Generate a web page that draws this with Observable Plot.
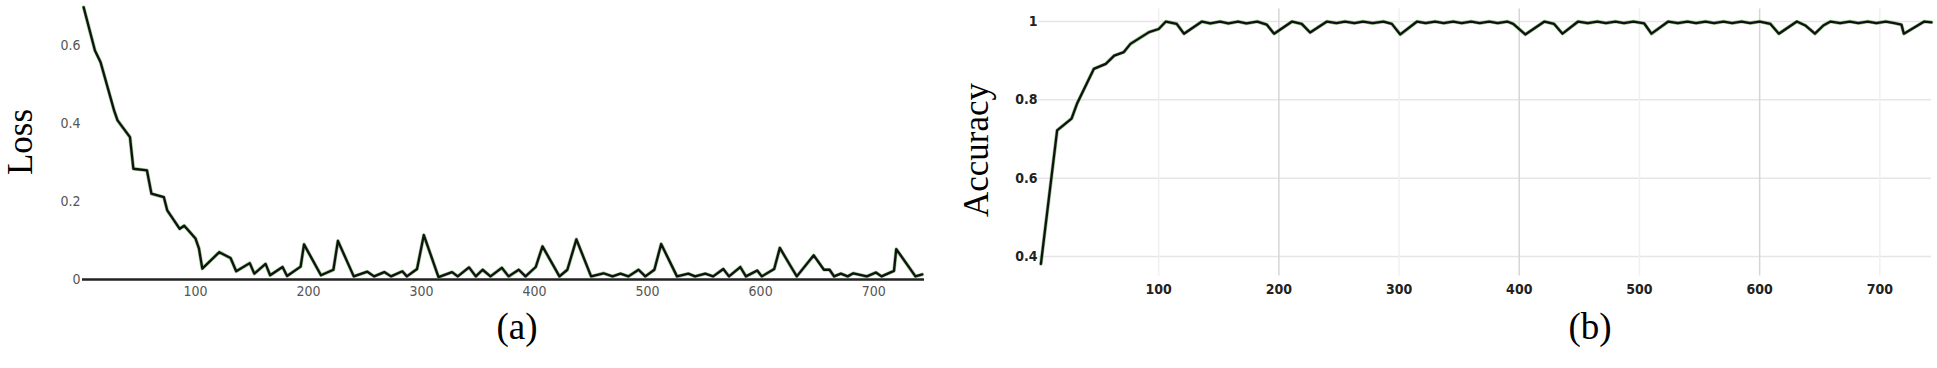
<!DOCTYPE html>
<html><head><meta charset="utf-8">
<script src="https://cdn.jsdelivr.net/npm/d3@7"></script>
<script src="https://cdn.jsdelivr.net/npm/@observablehq/plot@0.6"></script>
<style>
html,body{margin:0;padding:0;background:#fff;width:1937px;height:368px;overflow:hidden;position:relative}
.panel{position:absolute;top:0}
.panel svg text{font-stretch:condensed}
.lab{position:absolute;font-family:"Liberation Serif","Times New Roman",serif;font-size:35px;color:#000;white-space:nowrap;line-height:1}
.ylab{transform:translate(-50%,-50%) rotate(-90deg)}
.cap{transform:translate(-50%,-50%);font-size:37px}
</style></head><body>
<div id="a" class="panel" style="left:0"></div>
<div id="b" class="panel" style="left:940px"></div>
<div class="lab ylab" style="left:20px;top:142px">Loss</div>
<div class="lab ylab" style="left:976px;top:150px">Accuracy</div>
<div class="lab cap" style="left:517px;top:326px">(a)</div>
<div class="lab cap" style="left:1590px;top:326px">(b)</div>
<script>
// ---- Panel (a): Loss ----
const lossX = [1, 11, 16, 28, 31, 42, 45, 57, 61, 72, 75, 86, 90, 100, 103, 106, 121, 131, 136, 148, 152, 162, 166, 177, 181, 193, 196, 211, 222, 226, 240, 252, 258, 267, 273, 283, 287, 296, 302, 315, 327, 332, 342, 348, 354, 361, 371, 377, 386, 392, 401, 407, 422, 429, 437, 450, 461, 469, 476, 483, 492, 498, 506, 512, 526, 536, 542, 551, 558, 567, 572, 582, 587, 597, 601, 612, 617, 627, 632, 647, 656, 661, 665, 671, 677, 682, 694, 702, 707, 718, 720, 737, 743];
const lossY = [0.698, 0.587, 0.557, 0.433, 0.408, 0.365, 0.284, 0.28, 0.22, 0.211, 0.177, 0.13, 0.138, 0.105, 0.08, 0.028, 0.07, 0.055, 0.021, 0.042, 0.015, 0.04, 0.011, 0.032, 0.009, 0.033, 0.09, 0.011, 0.025, 0.099, 0.008, 0.02, 0.008, 0.019, 0.008, 0.021, 0.008, 0.027, 0.114, 0.006, 0.019, 0.008, 0.031, 0.008, 0.025, 0.008, 0.03, 0.008, 0.025, 0.008, 0.032, 0.085, 0.008, 0.025, 0.103, 0.008, 0.016, 0.008, 0.015, 0.008, 0.025, 0.008, 0.025, 0.091, 0.008, 0.015, 0.008, 0.015, 0.008, 0.027, 0.008, 0.032, 0.008, 0.023, 0.008, 0.027, 0.081, 0.032, 0.008, 0.062, 0.025, 0.025, 0.008, 0.015, 0.008, 0.016, 0.008, 0.018, 0.008, 0.022, 0.078, 0.008, 0.013];
const lossYTicks = [0, 0.2, 0.4, 0.6];
const xTicks = [100, 200, 300, 400, 500, 600, 700];

// ---- Panel (b): Accuracy ----
const accX = [2, 15.5, 27.5, 32, 46, 56, 63, 71, 76.5, 92, 100, 106, 115, 121, 136, 143, 151, 158, 166, 173, 182, 190, 196, 211, 219, 226, 240, 248, 255, 263, 270, 278, 287, 294, 301, 315, 322, 330, 337, 345, 352, 360, 367, 375, 382, 390, 395, 405, 421, 429, 436, 449, 457, 465, 472, 480, 487, 495, 504, 510, 524, 532, 540, 547, 555, 562, 570, 577, 585, 592, 600, 609, 616, 631, 638, 646, 653, 659, 667, 675, 682, 690, 697, 705, 712, 718, 720, 737, 743];
const accY = [0.381, 0.722, 0.752, 0.79, 0.879, 0.892, 0.913, 0.922, 0.943, 0.973, 0.981, 1.0, 0.994, 0.969, 1.0, 0.995, 1.0, 0.995, 1.0, 0.995, 1.0, 0.992, 0.969, 1.0, 0.994, 0.972, 1.0, 0.996, 1.0, 0.996, 1.0, 0.996, 1.0, 0.994, 0.967, 1.0, 0.996, 1.0, 0.996, 1.0, 0.996, 1.0, 0.996, 1.0, 0.996, 1.0, 0.994, 0.967, 1.0, 0.994, 0.969, 1.0, 0.996, 1.0, 0.996, 1.0, 0.996, 1.0, 0.995, 0.969, 1.0, 0.996, 1.0, 0.996, 1.0, 0.996, 1.0, 0.996, 1.0, 0.996, 1.0, 0.994, 0.969, 1.0, 0.99, 0.969, 0.99, 1.0, 0.996, 1.0, 0.996, 1.0, 0.996, 1.0, 0.996, 0.992, 0.969, 1.0, 0.998];
const accYTicks = [0.4, 0.6, 0.8, 1];
const gridStrong = [200, 400, 600];
const gridFaint = [100, 300, 500, 700];

const loss = lossX.map((x, i) => ({x, y: lossY[i]}));
const acc = accX.map((x, i) => ({x, y: accY[i]}));

const tickFont = '"DejaVu Sans Condensed","DejaVu Sans",sans-serif';
const fmt = d => String(d);

const chartA = Plot.plot({
  width: 935, height: 300,
  marginLeft: 82, marginRight: 11, marginTop: 6, marginBottom: 21,
  style: {fontFamily: tickFont, fontSize: "14px", background: "transparent", color: "#555"},
  x: {domain: [0, 745]},
  y: {domain: [0, 0.7]},
  marks: [
    Plot.axisY({ticks: lossYTicks, tickFormat: fmt, tickSize: 0, tickPadding: 2, label: null, fill: "#555"}),
    Plot.axisX({ticks: xTicks, tickFormat: fmt, tickSize: 0, tickPadding: 7, label: null, fill: "#555"}),
    Plot.ruleY([0], {stroke: "#222", strokeWidth: 2.5}),
    Plot.line(loss, {x: "x", y: "y", stroke: "#3f9a30", strokeWidth: 3.6, strokeOpacity: 0.55}),
    Plot.line(loss, {x: "x", y: "y", stroke: "#111", strokeWidth: 2.3})
  ]
});
document.getElementById("a").append(chartA);

const chartB = Plot.plot({
  width: 997, height: 300,
  marginLeft: 98, marginRight: 6, marginTop: 8.5, marginBottom: 24.4,
  style: {fontFamily: tickFont, fontSize: "14px", background: "transparent", color: "#222"},
  x: {domain: [0, 743]},
  y: {domain: [0.35, 1.032]},
  marks: [
    Plot.ruleY(accYTicks, {stroke: "#e6e6e6", strokeWidth: 1.5}),
    Plot.ruleX(gridFaint, {stroke: "#f0f0f0", strokeWidth: 1.5}),
    Plot.ruleX(gridStrong, {stroke: "#d6d6d6", strokeWidth: 1.5}),
    Plot.axisY({ticks: accYTicks, tickFormat: fmt, tickSize: 0, tickPadding: 1, label: null, fill: "#222", fontWeight: "bold"}),
    Plot.axisX({ticks: xTicks, tickFormat: fmt, tickSize: 0, tickPadding: 8, label: null, fill: "#222", fontWeight: "bold"}),
    Plot.line(acc, {x: "x", y: "y", stroke: "#3f9a30", strokeWidth: 3.6, strokeOpacity: 0.55}),
    Plot.line(acc, {x: "x", y: "y", stroke: "#111", strokeWidth: 2.3})
  ]
});
document.getElementById("b").append(chartB);
</script>
</body></html>
